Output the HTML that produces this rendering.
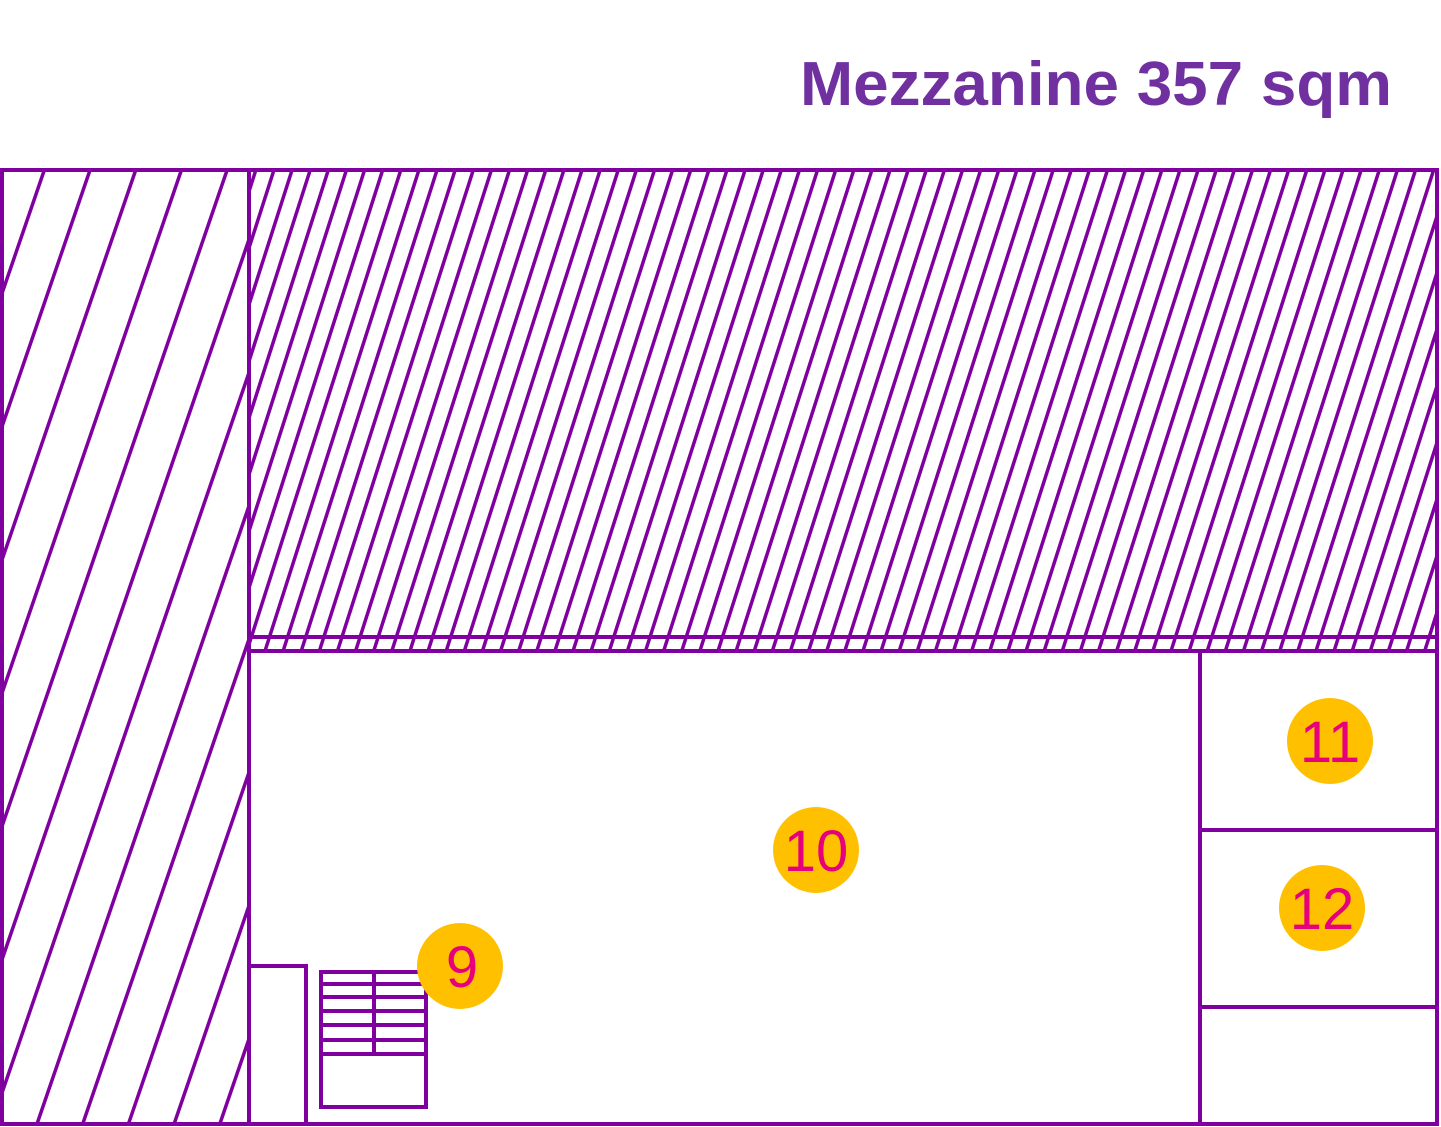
<!DOCTYPE html>
<html><head><meta charset="utf-8"><style>
html,body{margin:0;padding:0;background:#fff;}
svg{display:block;}
</style></head><body>
<svg width="1441" height="1127" viewBox="0 0 1441 1127" xmlns="http://www.w3.org/2000/svg">
<defs>
<clipPath id="cl"><rect x="2" y="170" width="247" height="954"/></clipPath>
<clipPath id="cr"><rect x="249" y="170" width="1188" height="481"/></clipPath>
</defs>
<text x="1392" y="105" text-anchor="end" textLength="592" lengthAdjust="spacingAndGlyphs" font-family="Liberation Sans, sans-serif" font-weight="bold" font-size="62" fill="#7030a0">Mezzanine 357 sqm</text>
<g stroke="#80009f" stroke-width="3.5" fill="none">
<g clip-path="url(#cl)" id="lh"></g>
<g clip-path="url(#cr)" id="rh"></g>
</g>
<g stroke="#80009f" stroke-width="4" fill="none">
<rect x="2" y="170" width="1435" height="954"/>
<line x1="249" y1="170" x2="249" y2="1124"/>
<line x1="249" y1="637" x2="1437" y2="637"/>
<line x1="249" y1="651" x2="1437" y2="651"/>
<line x1="1200" y1="651" x2="1200" y2="1124"/>
<line x1="1200" y1="830" x2="1437" y2="830"/>
<line x1="1200" y1="1007" x2="1437" y2="1007"/>
<rect x="249" y="966" width="57" height="158"/>
<rect x="321" y="972" width="105" height="135"/>
<line x1="374" y1="972" x2="374" y2="1054"/>
<line x1="321" y1="984" x2="426" y2="984"/>
<line x1="321" y1="997" x2="426" y2="997"/>
<line x1="321" y1="1011" x2="426" y2="1011"/>
<line x1="321" y1="1025" x2="426" y2="1025"/>
<line x1="321" y1="1040" x2="426" y2="1040"/>
<line x1="321" y1="1054" x2="426" y2="1054"/>
</g>
<g fill="#ffc000">
<circle cx="460" cy="966" r="43"/>
<circle cx="816" cy="850" r="43"/>
<circle cx="1330" cy="741" r="43"/>
<circle cx="1322" cy="908" r="43"/>
</g>
<g font-family="Liberation Sans, sans-serif" font-size="58" fill="#e6007e" text-anchor="middle">
<text x="462" y="987">9</text>
<text x="816" y="871">10</text>
<text x="1330" y="762">11</text>
<text x="1322" y="929">12</text>
</g>
<script>
(function(){
var ns="http://www.w3.org/2000/svg";
var lh=document.getElementById('lh'),rh=document.getElementById('rh');
function L(g,x1,y1,x2,y2){var l=document.createElementNS(ns,'line');l.setAttribute('x1',x1);l.setAttribute('y1',y1);l.setAttribute('x2',x2);l.setAttribute('y2',y2);g.appendChild(l);}
var s=0.343,sp=45.7;
for(var k=-10;k<20;k++){var xb=37+sp*k;var xt=xb+s*954;L(lh,xb,1124,xt,170);}
var s2=0.32,sp2=18.12;
for(var k=-15;k<75;k++){var xb=265+sp2*k;var xt=xb+s2*481;L(rh,xb,651,xt,170);}
})();
</script>
</svg>
</body></html>
